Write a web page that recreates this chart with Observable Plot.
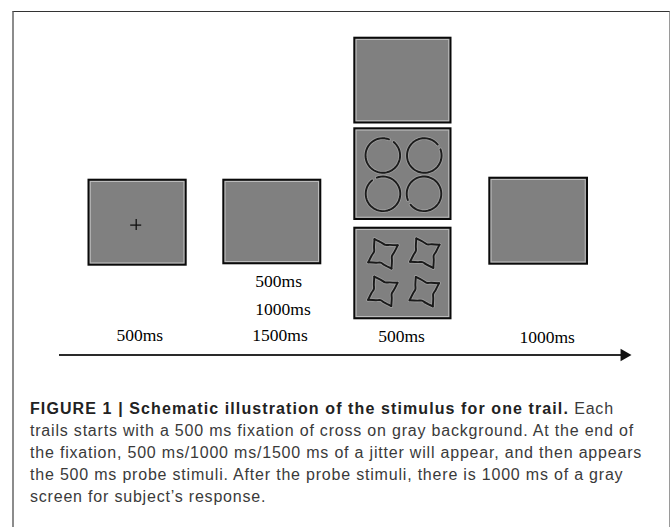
<!DOCTYPE html>
<html>
<head>
<meta charset="utf-8">
<script src="https://cdn.jsdelivr.net/npm/d3@7"></script>
<script src="https://cdn.jsdelivr.net/npm/@observablehq/plot@0.6"></script>
<style>
  html, body { margin: 0; padding: 0; background: #fff; }
  #wrap { position: relative; width: 671px; height: 527px; overflow: hidden; }
  #frame { position: absolute; left: 12px; top: 11px; width: 658px; height: 620px; box-sizing: border-box;
           border-top: 1px solid #333; border-left: 2px solid #8c8c8c; border-right: 1px solid #9a9a9a; }
  #chart { position: relative; }
  #chart svg { display: block; }
  #caption { position: relative; margin: 13px 0 0 30px; font-family: "Liberation Sans", Arial, sans-serif;
             font-size: 16px; letter-spacing: 0.8px; line-height: 22px; color: #3a3a3a; white-space: nowrap; }
  #caption b { color: #222; letter-spacing: 1.1px; }
</style>
</head>
<body>
<div id="wrap">
  <div id="frame"></div>
  <div id="chart"></div>
  <div id="caption"></div>
</div>
<script>
// ---------- content ----------
const stages = ["fixation", "jitter", "probe", "response"];
const durations = [["500ms"], ["500ms", "1000ms", "1500ms"], ["500ms"], ["1000ms"]];
const probeFrames = ["blank", "circles", "stars"];
const captionBold = "FIGURE 1 | Schematic illustration of the stimulus for one trail.";
const captionLines = [
  " Each",
  "trails starts with a 500 ms fixation of cross on gray background. At the end of",
  "the fixation, 500 ms/1000 ms/1500 ms of a jitter will appear, and then appears",
  "the 500 ms probe stimuli. After the probe stimuli, there is 1000 ms of a gray",
  "screen for subject\u2019s response."
];

// ---------- layout (diagram coordinates) ----------
const W = 671, H = 385;
const boxLayout = [
  {stage: "fixation", frame: "fix",     x1: 88.5,  x2: 185.7, y1: 179.7, y2: 264.7},
  {stage: "jitter",   frame: "blank",   x1: 223.3, x2: 320.3, y1: 179.7, y2: 263.3},
  {stage: "probe",    frame: "blank",   x1: 354.3, x2: 450.5, y1: 37.7,  y2: 122.5},
  {stage: "probe",    frame: "circles", x1: 354.3, x2: 450.5, y1: 128.3, y2: 219},
  {stage: "probe",    frame: "stars",   x1: 354.3, x2: 450.5, y1: 227.7, y2: 318.3},
  {stage: "response", frame: "blank",   x1: 489.3, x2: 587,   y1: 177.7, y2: 263.7}
];
const crossLayout = [{x: 135.7, y: 224.6, half: 5.5}];
const circleLayout = [
  {x: 382.3, y: 155.0, gap: 300},
  {x: 423.8, y: 155.0, gap: 330},
  {x: 382.5, y: 193.3, gap: 240},
  {x: 423.5, y: 193.3, gap: 150}
];
const circleR = 17.3, circleGapDeg = 18;
const starLayout = [
  {x: 382.5, y: 253.3},
  {x: 424.3, y: 252.7},
  {x: 382.3, y: 290.8},
  {x: 423.8, y: 291.2}
];
const starTipAngles = [-120, -30, 60, 150];
const starProfile = [[0, 17], [0.25, 11.3], [0.5, 9.2], [0.75, 11.3], [1, 17]];
const labelLayout = [
  [{x: 139.3, y: 340.7}],
  [{x: 278.2, y: 286.7}, {x: 282.5, y: 314}, {x: 279.5, y: 340.7}],
  [{x: 401, y: 341}],
  [{x: 546.7, y: 342}]
];
const arrowLayout = [{x1: 59, x2: 623, y: 354.5, tip: 631}];

// ---------- derived geometry ----------
const labelRows = [];
durations.forEach((lines, i) => lines.forEach((t, j) =>
  labelRows.push({stage: stages[i], text: t, x: labelLayout[i][j].x, y: labelLayout[i][j].y})));

const starRows = [];
starLayout.forEach((s, si) => {
  starTipAngles.forEach((a, k) => {
    const b = k + 1 < starTipAngles.length ? starTipAngles[k + 1] : starTipAngles[0] + 360;
    starProfile.forEach(([f, r]) => {
      const ang = (a + (b - a) * f) * Math.PI / 180;
      starRows.push({id: si + "-" + k, x: s.x + r * Math.cos(ang), y: s.y + r * Math.sin(ang)});
    });
  });
});

const arcRows = [];
circleLayout.forEach((c, ci) => {
  const start = c.gap + circleGapDeg / 2, end = c.gap + 360 - circleGapDeg / 2;
  for (let a = start; a <= end + 1e-9; a += (end - start) / 48) {
    const t = a * Math.PI / 180;
    arcRows.push({id: ci, x: c.x + circleR * Math.cos(t), y: c.y + circleR * Math.sin(t)});
  }
});

const plot = Plot.plot({
  width: W, height: H, margin: 0,
  x: {domain: [0, W], range: [0, W], axis: null},
  y: {domain: [0, H], range: [0, H], axis: null},
  style: {background: "transparent", overflow: "visible"},
  marks: [
    Plot.rect(boxLayout, {x1: "x1", x2: "x2", y1: "y1", y2: "y2", fill: "#808080", stroke: "#0a0a0a", strokeWidth: 2}),
    Plot.rect(boxLayout, {x1: "x1", x2: "x2", y1: "y1", y2: "y2", fill: "none", stroke: "#d4d4d4", strokeWidth: 1, strokeOpacity: 0.7, inset: 1.8}),
    Plot.ruleX(crossLayout, {x: "x", y1: d => d.y - d.half, y2: d => d.y + d.half, stroke: "#111", strokeWidth: 1.3}),
    Plot.ruleY(crossLayout, {y: "y", x1: d => d.x - d.half, x2: d => d.x + d.half, stroke: "#111", strokeWidth: 1.3}),
    Plot.line(arcRows, {x: "x", y: "y", z: "id", stroke: "#9c9c9c", strokeWidth: 3.6}),
    Plot.line(arcRows, {x: "x", y: "y", z: "id", stroke: "#1c1c1c", strokeWidth: 1.9}),
    Plot.line(starRows, {x: "x", y: "y", z: "id", curve: "catmull-rom", stroke: "#9c9c9c", strokeWidth: 3.6, strokeLinecap: "round"}),
    Plot.line(starRows, {x: "x", y: "y", z: "id", curve: "catmull-rom", stroke: "#1a1a1a", strokeWidth: 1.9}),
    Plot.text(labelRows, {x: "x", y: "y", text: "text", textAnchor: "middle", lineAnchor: "bottom",
      fontFamily: "Liberation Serif", fontSize: 17.5, fill: "#000"}),
    Plot.ruleY(arrowLayout, {y: "y", x1: "x1", x2: "x2", stroke: "#2a2a2a", strokeWidth: 2}),
    Plot.dot(arrowLayout, {x: d => d.tip - 7.3, y: "y", symbol: "triangle", rotate: 90, r: 4.7, fill: "#111", stroke: "none"})
  ]
});
document.getElementById("chart").appendChild(plot);

const cap = document.getElementById("caption");
const b = document.createElement("b");
b.textContent = captionBold;
cap.appendChild(b);
captionLines.forEach((line, i) => {
  if (i > 0) cap.appendChild(document.createElement("br"));
  cap.appendChild(document.createTextNode(line));
});
</script>
</body>
</html>
